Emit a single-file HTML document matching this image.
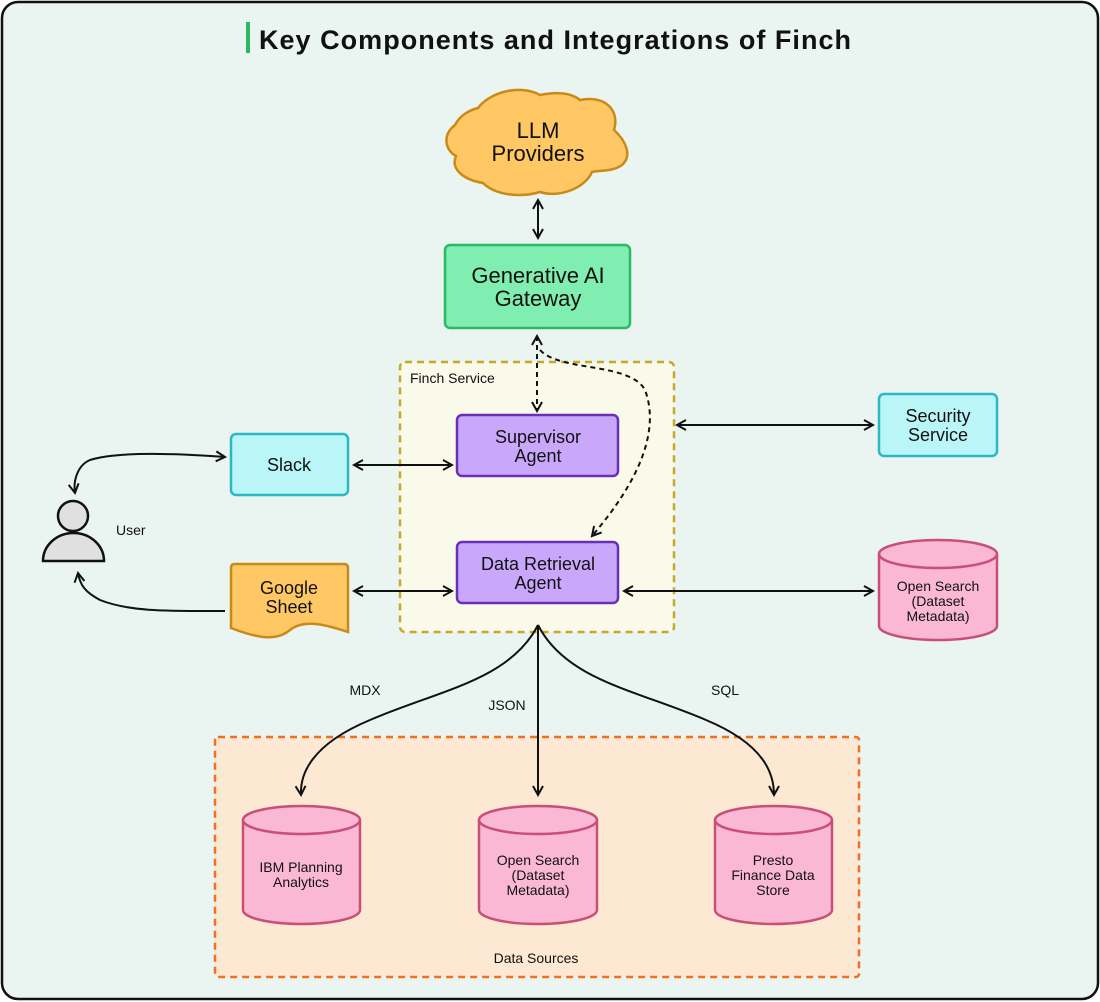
<!DOCTYPE html>
<html><head><meta charset="utf-8"><style>
html,body{margin:0;padding:0;background:#fff;}
svg{display:block;font-family:"Liberation Sans",sans-serif;}
</style></head><body>
<svg width="1100" height="1002" viewBox="0 0 1100 1002" xmlns="http://www.w3.org/2000/svg">
<defs>
<marker id="a" viewBox="0 0 12 12" refX="10" refY="6" markerWidth="12" markerHeight="12" markerUnits="userSpaceOnUse" orient="auto-start-reverse">
<path d="M1,1 L10,6 L1,11" fill="none" stroke="#111" stroke-width="2"/>
</marker>
</defs>
<rect x="2" y="2" width="1096" height="997" rx="16" fill="#eaf4f0" stroke="#111" stroke-width="2.5"/>
<rect x="246" y="22" width="4" height="31" fill="#2db865"/>
<text x="259" y="49" font-size="27" font-weight="bold" fill="#111" textLength="592">Key Components and Integrations of Finch</text>

<!-- Cloud -->
<path d="M478,108 C490,92 520,84 540,95 C555,92 570,92 580,100 C605,95 620,110 614,130 C625,140 633,155 622,165 C612,172 600,170 592,172 C585,188 560,198 540,192 C520,198 495,195 483,183 C465,180 450,170 456,156 C445,150 442,135 455,125 C460,115 470,110 478,108 Z" fill="#ffc864" stroke="#c88a18" stroke-width="2.5"/>
<text x="538" y="138" font-size="22" text-anchor="middle" fill="#111">LLM</text>
<text x="538" y="161" font-size="22" text-anchor="middle" fill="#111">Providers</text>
<line x1="538" y1="200" x2="538" y2="238" stroke="#111" stroke-width="2" marker-start="url(#a)" marker-end="url(#a)"/>

<rect x="445" y="245" width="185" height="83" rx="5" fill="#80eeb0" stroke="#2db865" stroke-width="2.5"/>
<text x="538" y="283" font-size="22" text-anchor="middle" fill="#111">Generative AI</text>
<text x="538" y="306" font-size="22" text-anchor="middle" fill="#111">Gateway</text>

<!-- Finch Service -->
<rect x="400" y="362" width="274" height="270" rx="5" fill="#fafaea" stroke="#c8a82a" stroke-width="2.5" stroke-dasharray="7,5"/>
<text x="410" y="383" font-size="14" fill="#111">Finch Service</text>

<rect x="457" y="415" width="161" height="61" rx="5" fill="#c9a8fc" stroke="#6a2fb8" stroke-width="2.5"/>
<text x="538" y="443" font-size="18" text-anchor="middle" fill="#111">Supervisor</text>
<text x="538" y="462" font-size="18" text-anchor="middle" fill="#111">Agent</text>
<rect x="457" y="542" width="161" height="61" rx="5" fill="#c9a8fc" stroke="#6a2fb8" stroke-width="2.5"/>
<text x="538" y="570" font-size="18" text-anchor="middle" fill="#111">Data Retrieval</text>
<text x="538" y="589" font-size="18" text-anchor="middle" fill="#111">Agent</text>

<line x1="537" y1="336" x2="537" y2="411" stroke="#111" stroke-width="2" stroke-dasharray="5,4" marker-start="url(#a)" marker-end="url(#a)" />
<path d="M540,350 C560,372 630,362 645,390 C660,430 640,480 592,536" fill="none" stroke="#111" stroke-width="2" stroke-dasharray="5,4" marker-end="url(#a)"/>

<!-- Slack -->
<rect x="231" y="434" width="117" height="61" rx="5" fill="#baf6f8" stroke="#2ab8c4" stroke-width="2.5"/>
<text x="289" y="471" font-size="18" text-anchor="middle" fill="#111">Slack</text>
<line x1="354" y1="465" x2="452" y2="465" stroke="#111" stroke-width="2" marker-start="url(#a)" marker-end="url(#a)"/>

<!-- Security -->
<rect x="879" y="394" width="118" height="62" rx="5" fill="#baf6f8" stroke="#2ab8c4" stroke-width="2.5"/>
<text x="938" y="422" font-size="18" text-anchor="middle" fill="#111">Security</text>
<text x="938" y="441" font-size="18" text-anchor="middle" fill="#111">Service</text>
<line x1="677" y1="425" x2="873" y2="425" stroke="#111" stroke-width="2" marker-start="url(#a)" marker-end="url(#a)"/>

<!-- Google sheet -->
<path d="M235,564 H344 Q348,564 348,568 V632 C330,626 305,618 290,630 C278,640 262,640 231,628 V568 Q231,564 235,564 Z" fill="#ffc864" stroke="#c88a18" stroke-width="2.5"/>
<text x="289" y="594" font-size="18" text-anchor="middle" fill="#111">Google</text>
<text x="289" y="613" font-size="18" text-anchor="middle" fill="#111">Sheet</text>
<line x1="354" y1="591" x2="452" y2="591" stroke="#111" stroke-width="2" marker-start="url(#a)" marker-end="url(#a)"/>

<!-- User -->
<circle cx="73" cy="516" r="15" fill="#e0e0e0" stroke="#111" stroke-width="2.5"/>
<path d="M43,561 A30.5,28 0 0 1 104,561 Z" fill="#e0e0e0" stroke="#111" stroke-width="2.5"/>
<text x="116" y="535" font-size="14" fill="#111">User</text>
<path d="M225,457 C170,453 115,452 90,460 C78,465 73,480 75,493" fill="none" stroke="#111" stroke-width="2" marker-start="url(#a)" marker-end="url(#a)"/>
<path d="M225,611 C170,611 130,612 100,600 C85,592 80,585 78,573" fill="none" stroke="#111" stroke-width="2" marker-end="url(#a)"/>

<!-- Right Open Search -->
<path d="M879,554 A59,14 0 0 1 997,554 V626 A59,14 0 0 1 879,626 Z" fill="#fbb8d4" stroke="#c85078" stroke-width="2.5"/>
<path d="M879,554 A59,14 0 0 0 997,554" fill="none" stroke="#c85078" stroke-width="2.5"/>
<text x="938" y="591" font-size="14" text-anchor="middle" fill="#111">Open Search</text>
<text x="938" y="606" font-size="14" text-anchor="middle" fill="#111">(Dataset</text>
<text x="938" y="621" font-size="14" text-anchor="middle" fill="#111">Metadata)</text>
<line x1="624" y1="591" x2="873" y2="591" stroke="#111" stroke-width="2" marker-start="url(#a)" marker-end="url(#a)"/>

<!-- Data Sources -->
<rect x="215" y="737" width="644" height="240" rx="3" fill="#fde8d4" stroke="#f07020" stroke-width="2.5" stroke-dasharray="7,5"/>
<text x="536" y="963" font-size="14" text-anchor="middle" fill="#111">Data Sources</text>

<path d="M538,625 C510,680 440,690 370,720 C310,745 300,775 301,795" fill="none" stroke="#111" stroke-width="2" marker-end="url(#a)"/>
<line x1="538" y1="625" x2="538" y2="795" stroke="#111" stroke-width="2" marker-end="url(#a)"/>
<path d="M538,625 C566,680 636,690 706,720 C766,745 774,775 774,795" fill="none" stroke="#111" stroke-width="2" marker-end="url(#a)"/>
<text x="365" y="695" font-size="14" text-anchor="middle" fill="#111">MDX</text>
<text x="507" y="710" font-size="14" text-anchor="middle" fill="#111">JSON</text>
<text x="725" y="695" font-size="14" text-anchor="middle" fill="#111">SQL</text>

<path d="M243,820 A58.5,14 0 0 1 360,820 V910 A58.5,14 0 0 1 243,910 Z" fill="#fbb8d4" stroke="#c85078" stroke-width="2.5"/>
<path d="M243,820 A58.5,14 0 0 0 360,820" fill="none" stroke="#c85078" stroke-width="2.5"/>
<text x="301" y="872" font-size="14" text-anchor="middle" fill="#111">IBM Planning</text>
<text x="301" y="887" font-size="14" text-anchor="middle" fill="#111">Analytics</text>

<path d="M479,820 A59,14 0 0 1 597,820 V910 A59,14 0 0 1 479,910 Z" fill="#fbb8d4" stroke="#c85078" stroke-width="2.5"/>
<path d="M479,820 A59,14 0 0 0 597,820" fill="none" stroke="#c85078" stroke-width="2.5"/>
<text x="538" y="865" font-size="14" text-anchor="middle" fill="#111">Open Search</text>
<text x="538" y="880" font-size="14" text-anchor="middle" fill="#111">(Dataset</text>
<text x="538" y="895" font-size="14" text-anchor="middle" fill="#111">Metadata)</text>

<path d="M715,820 A58.5,14 0 0 1 832,820 V910 A58.5,14 0 0 1 715,910 Z" fill="#fbb8d4" stroke="#c85078" stroke-width="2.5"/>
<path d="M715,820 A58.5,14 0 0 0 832,820" fill="none" stroke="#c85078" stroke-width="2.5"/>
<text x="773" y="865" font-size="14" text-anchor="middle" fill="#111">Presto</text>
<text x="773" y="880" font-size="14" text-anchor="middle" fill="#111">Finance Data</text>
<text x="773" y="895" font-size="14" text-anchor="middle" fill="#111">Store</text>
</svg>
</body></html>
